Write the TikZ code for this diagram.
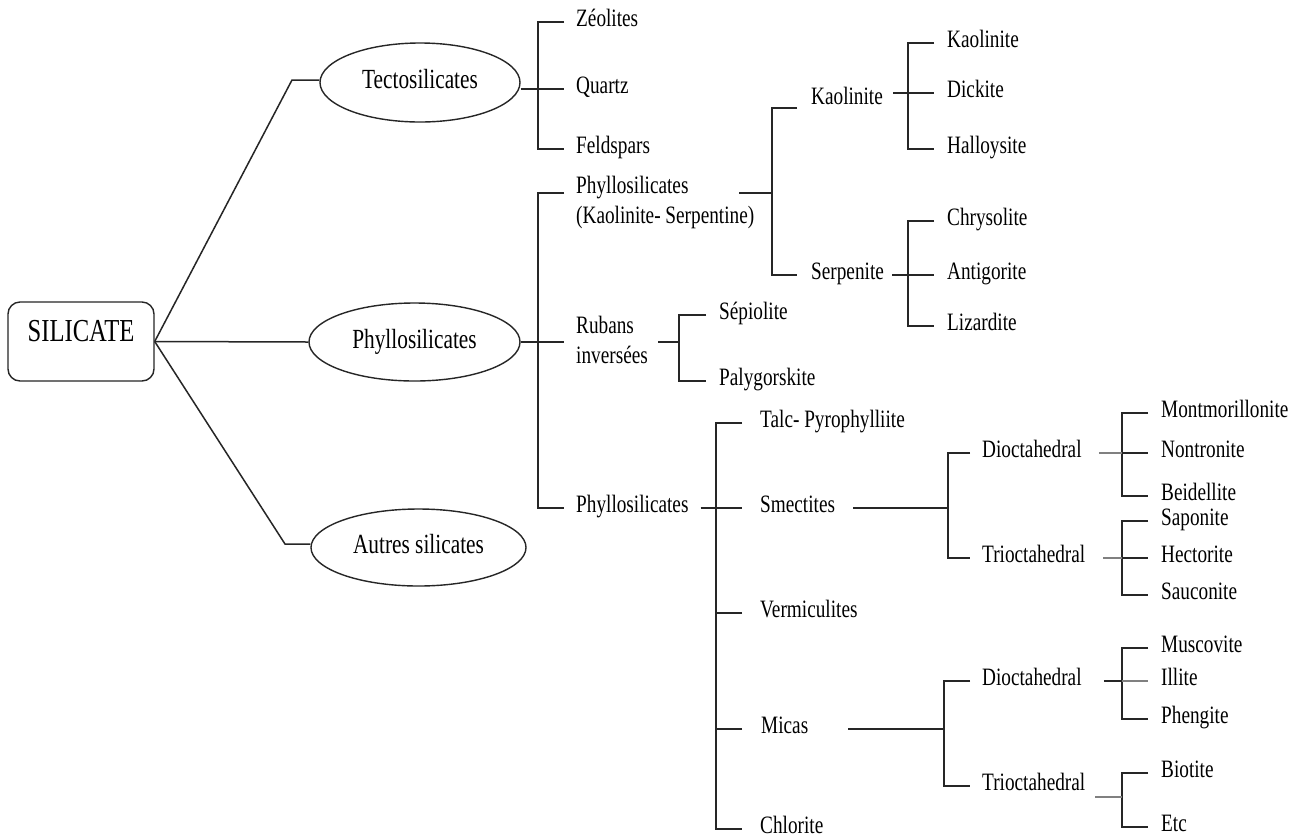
\documentclass[tikz,border=0pt]{standalone}
\usepackage{fontspec}
\setmainfont{Liberation Serif}[FakeStretch=0.77]
\usetikzlibrary{shapes.geometric,calc}
\begin{document}
\begin{tikzpicture}[x=1pt,y=-1pt,
  conn/.style={line width=1.5pt, draw=black!85},
  soft/.style={conn, draw=black!50, line width=2pt},
  lbl/.style={anchor=west, inner sep=0pt, text height=16.5pt, text depth=7.5pt, font=\fontsize{25}{30}\selectfont},
  lblb/.style={anchor=base west, inner sep=0pt, font=\fontsize{25}{30}\selectfont},
  oval/.style={ellipse, draw=black!85, line width=1.4pt, inner sep=0pt, text height=18.3pt, text depth=5.5pt, font=\fontsize{27.7}{33}\selectfont},
  rootbox/.style={draw=black!85, line width=1.4pt, rounded corners=12pt, inner sep=0pt, text height=21pt, text depth=22pt, font=\fontsize{32}{38}\selectfont}]
\fill[white] (0,0) rectangle (1300,839);
\useasboundingbox (0,0) rectangle (1300,839);

% root and first level
\node[rootbox, minimum width=146pt, minimum height=79pt] (sil) at (81,341.5) {SILICATE};
\node[oval, minimum width=200pt, minimum height=79pt] (tecto) at (420,82.5) {Tectosilicates};
\node[oval, minimum width=211pt, minimum height=78pt] (phy) at (414.5,342) {Phyllosilicates};
\node[oval, minimum width=215pt, minimum height=77pt] (aut) at (418.5,547.5) {Autres silicates};
\coordinate (k1) at (292,80);
\coordinate (k3) at (285,544);
\draw[conn] (sil.east) -- (k1) -- (k1 -| tecto.west);
\draw[conn] (sil.east) -- (phy.west);
\draw[conn] (sil.east) -- (k3) -- (k3 -| aut.west);

% Tectosilicates
\coordinate (bT) at (538,0);
\node[lbl] (zeo) at (576,22) {Zéolites};
\node[lbl] (qtz) at (576,89) {Quartz};
\node[lbl] (fel) at (576,149) {Feldspars};
\draw[conn] ([xshift=-12pt]zeo.west) -| (bT |- fel.west) -- ([xshift=-12pt]fel.west);
\draw[conn] (tecto.east |- qtz.west) -- ([xshift=-12pt]qtz.west);

% Phyllosilicates
\coordinate (bP) at (538,0);
\node[lblb] (ksa) at (576,193) {Phyllosilicates};
\node[lblb] (ksb) at (576,223) {(Kaolinite- Serpentine)};
\node[lblb] (ruba) at (576,333) {Rubans};
\node[lblb] (rubb) at (576,363) {inversées};
\node[lbl] (phl) at (576,508) {Phyllosilicates};
\coordinate (ksL) at ($(ksa.base west)+(-12,0)$);
\coordinate (rubL) at ($(ruba.base west)+(-12,9)$);
\draw[conn] (ksL) -| (bP |- phl.west) -- ([xshift=-12pt]phl.west);
\draw[conn] (phy.east) -- (rubL);

% Kaolinite - Serpentine
\coordinate (bK) at (772,0);
\path (ksb.east |- ksa.base) ++(-15,0) coordinate (ksR);
\node[lbl] (kaoP) at (811,100) {Kaolinite};
\node[lbl] (serP) at (811,275) {Serpenite};
\draw[conn] (ksR) -- (ksR -| bK);
\draw[conn] ($(kaoP.west)+(-14,8)$) -| (bK |- serP.west) -- ([xshift=-14pt]serP.west);

\coordinate (bKa) at (908,0);
\node[lbl] (kaoA) at (947,43) {Kaolinite};
\node[lbl] (dic) at (947,93) {Dickite};
\node[lbl] (hal) at (947,149) {Halloysite};
\draw[conn] ([xshift=-13pt]kaoA.west) -| (bKa |- hal.west) -- ([xshift=-13pt]hal.west);
\draw[conn] ($(kaoP.east)+(10,-7)$) -- ([xshift=-13pt]dic.west);

\node[lbl] (chr) at (947,221) {Chrysolite};
\node[lbl] (ant) at (947,275) {Antigorite};
\node[lbl] (liz) at (947,326) {Lizardite};
\draw[conn] ([xshift=-13pt]chr.west) -| (bKa |- liz.west) -- ([xshift=-13pt]liz.west);
\draw[conn, shorten <=8pt] (serP.east) -- ([xshift=-13pt]ant.west);

% Rubans inversees
\coordinate (bR) at (679,0);
\node[lbl] (sep) at (719,315) {Sépiolite};
\node[lbl] (pal) at (719,381) {Palygorskite};
\path (rubb.base east) ++(10,-21) coordinate (rubR);
\draw[conn] (rubR) -- (rubR -| bR);
\draw[conn] ([xshift=-13pt]sep.west) -| (bR |- pal.west) -- ([xshift=-13pt]pal.west);

% lower Phyllosilicates
\coordinate (bL) at (716,0);
\node[lbl] (tal) at (760,423) {Talc- Pyrophylliite};
\node[lbl] (sme) at (760,508) {Smectites};
\node[lbl] (ver) at (760,613) {Vermiculites};
\node[lbl] (mic) at (761,729) {Micas};
\node[lbl] (chl) at (760,829) {Chlorite};
\draw[conn] ([xshift=-18pt]tal.west) -| (bL |- chl.west) -- ([xshift=-18pt]chl.west);
\draw[conn, shorten <=12pt] (phl.east) -- ([xshift=-18pt]sme.west);
\draw[conn] ([xshift=-18pt]ver.west) -- (ver.west -| bL);
\draw[conn] ([xshift=-19pt]mic.west) -- (mic.west -| bL);

% Smectites
\coordinate (bS) at (948,0);
\node[lbl] (sD) at (982,453) {Dioctahedral};
\node[lbl] (sT) at (982,558) {Trioctahedral};
\draw[conn, shorten <=18pt] (sme.east) -- (sme.east -| bS);
\draw[conn] ([xshift=-12pt]sD.west) -| (bS |- sT.west) -- ([xshift=-12pt]sT.west);

\coordinate (bX) at (1122,0);
\node[lbl] (mon) at (1161,413) {Montmorillonite};
\node[lbl] (non) at (1161,453) {Nontronite};
\node[lbl] (bei) at (1161,496) {Beidellite};
\draw[conn] ([xshift=-13pt]mon.west) -| (bX |- bei.west) -- ([xshift=-13pt]bei.west);
\draw[soft, shorten <=17pt] (sD.east) -- (sD.east -| bX);
\draw[conn] (non.west -| bX) -- ([xshift=-13pt]non.west);

\node[lbl] (sap) at (1161,521) {Saponite};
\node[lbl] (hec) at (1161,558) {Hectorite};
\node[lbl] (sau) at (1161,595) {Sauconite};
\draw[conn] ([xshift=-13pt]sap.west) -| (bX |- sau.west) -- ([xshift=-13pt]sau.west);
\draw[soft, shorten <=18pt] (sT.east) -- (sT.east -| bX);
\draw[conn] (hec.west -| bX) -- ([xshift=-13pt]hec.west);

% Micas
\coordinate (bM) at (944,0);
\node[lbl] (mD) at (982,681) {Dioctahedral};
\node[lbl] (mT) at (982,786) {Trioctahedral};
\draw[conn, shorten <=40pt] (mic.east) -- (mic.east -| bM);
\draw[conn] ([xshift=-12pt]mD.west) -| (bM |- mT.west) -- ([xshift=-12pt]mT.west);

\node[lbl] (mus) at (1161,648) {Muscovite};
\node[lbl] (ill) at (1161,681) {Illite};
\node[lbl] (phe) at (1161,719) {Phengite};
\draw[conn] ([xshift=-13pt]mus.west) -| (bX |- phe.west) -- ([xshift=-13pt]phe.west);
\draw[conn, shorten <=22pt] (mD.east) -- (mD.east -| bX);
\draw[soft] (ill.west -| bX) -- ([xshift=-13pt]ill.west);

\node[lbl] (bio) at (1161,773) {Biotite};
\node[lbl] (etc) at (1161,827) {Etc};
\draw[conn] ([xshift=-13pt]bio.west) -| (bX |- etc.west) -- ([xshift=-13pt]etc.west);
\path (mT.east) ++(10,11) coordinate (mTo);
\draw[soft] (mTo) -- (mTo -| bX);
\end{tikzpicture}
\end{document}
